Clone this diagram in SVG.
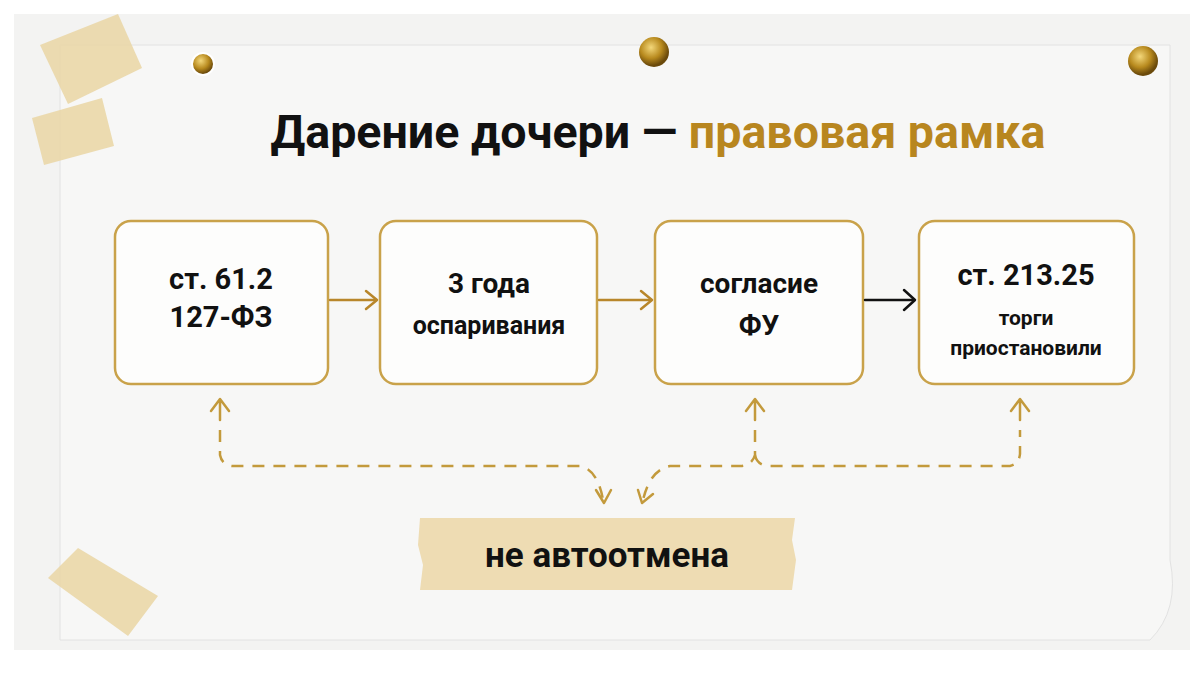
<svg xmlns="http://www.w3.org/2000/svg" width="1200" height="675" viewBox="0 0 1200 675">
<defs>
<style>
.box{fill:#fdfdfc;stroke:#c9a24a;stroke-width:2.5}
.t{font-family:Roboto,"Liberation Sans",sans-serif;font-weight:bold;fill:#111;text-anchor:middle}
.dash{fill:none;stroke:#c39a3c;stroke-width:2.5;stroke-dasharray:12 9}
.ar{fill:none;stroke-width:2.5;stroke-linecap:round;stroke-linejoin:round}
.tape{fill:#ead7a8;opacity:0.9}
</style>
<radialGradient id="pin" cx="0.4" cy="0.35" r="0.6"><stop offset="0" stop-color="#f3d77a"/><stop offset="0.6" stop-color="#b88a1e"/><stop offset="1" stop-color="#6b4a0b"/></radialGradient>
</defs>
<rect width="1200" height="675" fill="#ffffff"/>
<rect x="14" y="14" width="1176" height="636" fill="#f3f3f2"/>
<path d="M60 45 H1170 V560 Q1180 610 1150 640 H60 Z" fill="#f7f7f6" stroke="#e2e2e2"/>
<g id="tapes">
<polygon class="tape" points="40,45 118,14 142,68 68,104"/>
<polygon class="tape" points="32,118 102,98 114,146 44,165"/>
<polygon class="tape" points="48,578 78,548 158,596 128,636"/>
</g>
<g id="pins">
<circle cx="203" cy="64" r="11" fill="url(#pin)" stroke="#fff" stroke-width="2"/>
<circle cx="654" cy="52" r="15" fill="url(#pin)"/>
<circle cx="1143" cy="61" r="15" fill="url(#pin)"/>
</g>
<g id="title">
<text x="658" y="148" class="t" font-size="46" textLength="775" lengthAdjust="spacingAndGlyphs"><tspan>Дарение дочери — </tspan><tspan fill="#b8861f">правовая рамка</tspan></text>
</g>
<g id="n1"><rect class="box" x="115" y="221" width="213" height="163" rx="16"/>
<text class="t" x="221" y="289" font-size="29">ст. 61.2</text><text class="t" x="221" y="327" font-size="29">127-ФЗ</text></g>
<g id="n2"><rect class="box" x="380" y="221" width="217" height="163" rx="16"/>
<text class="t" x="489" y="293" font-size="28">3 года</text><text class="t" x="489" y="334" font-size="25">оспаривания</text></g>
<g id="n3"><rect class="box" x="655" y="221" width="208" height="163" rx="16"/>
<text class="t" x="759" y="293" font-size="28">согласие</text><text class="t" x="759" y="335" font-size="28">ФУ</text></g>
<g id="n4"><rect class="box" x="919" y="221" width="215" height="163" rx="16"/>
<text class="t" x="1026" y="285" font-size="29">ст. 213.25</text><text class="t" x="1026" y="325" font-size="21">торги</text><text class="t" x="1026" y="355" font-size="21">приостановили</text></g>
<g id="n5">
<path d="M420 518 L795 518 L792 540 L796 560 L792 590 L420 590 L423 565 L418 545 Z" fill="#eedcb3"/>
<text class="t" x="607" y="567" font-size="35">не автоотмена</text></g>
<g id="connectors">
<line class="ar" x1="330" y1="300" x2="376" y2="300" stroke="#b8862a"/><path class="ar" d="M366 291 L377 300 L366 309" stroke="#b8862a"/>
<line class="ar" x1="599" y1="300" x2="651" y2="300" stroke="#b8862a"/><path class="ar" d="M641 291 L652 300 L641 309" stroke="#b8862a"/>
<line class="ar" x1="865" y1="300" x2="914" y2="300" stroke="#111" stroke-width="3"/><path class="ar" d="M904 290 L915 300 L904 310" stroke="#111" stroke-width="3"/>
<path class="dash" d="M220 430 V455 Q222 465 232 466 H580 Q598 470 603 500"/>
<path class="ar" d="M211 411 L220 399 L229 411 M220 400 V420" stroke="#c39a3c"/>
<path class="ar" d="M596 490 L604 503 L611 490" stroke="#c39a3c"/>
<path class="dash" d="M755 430 V455 Q752 465 742 466 H670 Q650 470 643 500"/>
<path class="ar" d="M746 411 L755 399 L764 411 M755 400 V420" stroke="#c39a3c"/>
<path class="ar" d="M638 490 L642 503 L653 494" stroke="#c39a3c"/>
<path class="dash" d="M755 455 Q757 465 768 466 H1010 Q1019 464 1020 454 V430"/>
<path class="ar" d="M1011 411 L1020 399 L1029 411 M1020 400 V420" stroke="#c39a3c"/>
</g>
</svg>
